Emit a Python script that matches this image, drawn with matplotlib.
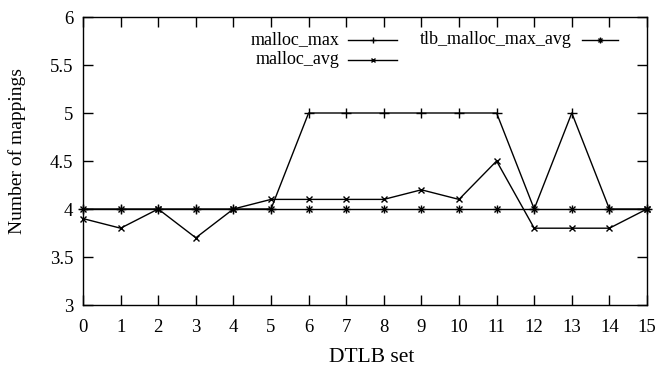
import matplotlib
matplotlib.use("Agg")
import matplotlib.pyplot as plt
from matplotlib.lines import Line2D

plt.rcParams['font.family'] = ['Liberation Serif', 'DejaVu Serif']

dtlb_set = list(range(16))
malloc_max = [4, 4, 4, 4, 4, 4, 5, 5, 5, 5, 5, 5, 4, 5, 4, 4]
malloc_avg = [3.9, 3.8, 4.0, 3.7, 4.0, 4.1, 4.1, 4.1, 4.1, 4.2, 4.1, 4.5, 3.8, 3.8, 3.8, 4.0]
tlb_malloc_max_avg = [4] * 16
yticks = [3, 3.5, 4, 4.5, 5, 5.5, 6]
ytick_labels = ['3', '3.5', '4', '4.5', '5', '5.5', '6']

W, H = 657, 370
fig = plt.figure(figsize=(W/100, H/100), dpi=100)
ax = fig.add_axes([83/W, 1 - 305/H, (647-83)/W, (305-17)/H])

lw = 1.0
ax.plot(dtlb_set, malloc_max, color='black', lw=lw, marker='+', ms=7, mew=1, clip_on=False)
ax.plot(dtlb_set, malloc_avg, color='black', lw=lw, marker='x', ms=5, mew=1, clip_on=False)
ax.plot(dtlb_set, tlb_malloc_max_avg, color='black', lw=lw, marker='x', ms=5, mew=1, clip_on=False)
ax.plot(dtlb_set, tlb_malloc_max_avg, color='black', lw=0, marker='+', ms=6, mew=1, clip_on=False)

ax.set_xlim(0, 15)
ax.set_ylim(3, 6)
ax.set_xticks(dtlb_set)
ax.set_yticks(yticks)
ax.set_yticklabels(ytick_labels)
ax.tick_params(direction='in', length=7, width=1, top=True, right=True, labelsize=13.5)
ax.tick_params(axis='x', pad=10)
ax.tick_params(axis='y', pad=7)
for s in ax.spines.values():
    s.set_linewidth(1)

fig.text(372/W, 1 - 357/H, 'DTLB set', ha='center', va='center', fontsize=15.5)
fig.text(17/W, 1 - 151/H, 'Number of mappings', ha='center', va='center', rotation=90, fontsize=14)

# legend (gnuplot style: text right-aligned, sample on right)
tr = fig.transFigure
def legend_entry(x_text_right, x0, x1, y, label, markers):
    fig.text(x_text_right/W, 1 - y/H, label, ha='right', va='center', fontsize=13)
    fig.add_artist(Line2D([x0/W, x1/W], [1 - y/H]*2, color='black', lw=lw, transform=tr))
    for m, ms in markers:
        fig.add_artist(Line2D([(x0+x1)/2/W], [1 - y/H], color='black', lw=0, marker=m, ms=ms, mew=1, transform=tr))

legend_entry(340, 348, 397, 40, 'malloc_max', [('+', 4)])
legend_entry(340, 348, 397, 60, 'malloc_avg', [('x', 3.5)])
legend_entry(572, 582, 618, 40, 'tlb_malloc_max_avg', [('x', 3.5), ('+', 4)])

fig.savefig('out.png', dpi=100)
